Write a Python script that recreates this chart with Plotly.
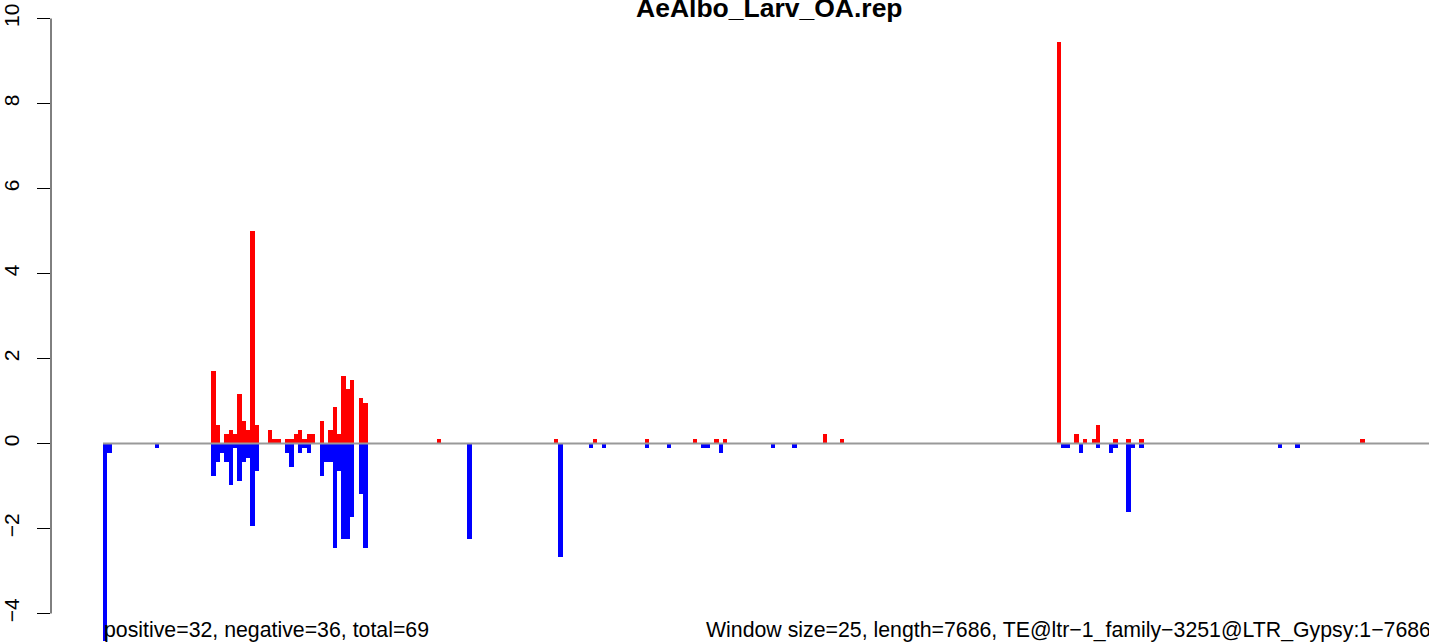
import plotly.graph_objects as go

# ---- data (window index, value); window size = 25 bp ----
window_size = 25
seq_length = 7686
ytick_vals = [-4, -2, 0, 2, 4, 6, 8, 10]

pos_windows = [25, 26, 28, 29, 30, 31, 32, 33, 34, 35, 38, 39, 40, 42, 43, 44, 45, 46, 47, 48,
               50, 52, 53, 54, 55, 56, 57, 59, 60, 77, 104, 113, 125, 136, 141, 143, 166, 170,
               220, 224, 226, 228, 229, 233, 236, 239, 290]
pos_values = [1.70, 0.43, 0.22, 0.32, 0.22, 1.17, 0.54, 0.32, 5.00, 0.43, 0.32, 0.11, 0.11, 0.11,
              0.11, 0.22, 0.32, 0.11, 0.22, 0.22, 0.54, 0.32, 0.86, 0.22, 1.59, 1.28, 1.49, 1.07,
              0.95, 0.11, 0.11, 0.11, 0.11, 0.11, 0.11, 0.11, 0.22, 0.11, 9.45, 0.22, 0.11, 0.11,
              0.43, 0.11, 0.11, 0.11, 0.11]

neg_windows = [0, 1, 12, 25, 26, 27, 28, 29, 30, 31, 32, 33, 34, 35, 42, 43, 45, 46, 47, 50, 51,
               52, 53, 54, 55, 56, 57, 59, 60, 84, 105, 112, 115, 125, 130, 138, 139, 142, 154,
               159, 221, 222, 225, 229, 232, 233, 236, 237, 239, 271, 275]
neg_values = [-4.65, -0.22, -0.11, -0.76, -0.43, -0.22, -0.43, -0.97, -0.11, -0.88, -0.43, -0.34,
              -1.94, -0.64, -0.22, -0.55, -0.22, -0.11, -0.22, -0.76, -0.43, -0.43, -2.45, -0.64,
              -2.24, -2.24, -1.73, -1.18, -2.45, -2.24, -2.67, -0.11, -0.11, -0.11, -0.11, -0.11,
              -0.11, -0.22, -0.11, -0.11, -0.11, -0.11, -0.22, -0.11, -0.22, -0.11, -1.61, -0.11,
              -0.11, -0.11, -0.11]

title_text = "AeAlbo_Larv_OA.rep"
left_note = "positive=32, negative=36, total=69"
right_note = "Window size=25, length=7686, TE@ltr\u22121_family\u22123251@LTR_Gypsy:1\u22127686"

FONT = "Liberation Sans, Arial, Helvetica, sans-serif"

pos_x = [w * window_size + window_size / 2 for w in pos_windows]
neg_x = [w * window_size + window_size / 2 for w in neg_windows]

fig = go.Figure()
fig.add_trace(go.Bar(x=pos_x, y=pos_values, width=window_size,
                     marker=dict(color="#FF0000", line=dict(width=0)), showlegend=False,
                     hoverinfo="skip"))
fig.add_trace(go.Bar(x=neg_x, y=neg_values, width=window_size,
                     marker=dict(color="#0000FF", line=dict(width=0)), showlegend=False,
                     hoverinfo="skip"))

W, H = 1429, 643
left_margin = 51
px_per_bp = 4.336 / window_size
x_start = -(103 - left_margin) / px_per_bp
x_end = x_start + (W - left_margin) / px_per_bp
zero_px = 443.5
px_per_unit = 42.5
y_top = zero_px / px_per_unit
y_bot = -(H - zero_px) / px_per_unit

fig.update_layout(
    width=W, height=H,
    margin=dict(l=left_margin, r=0, t=0, b=0),
    paper_bgcolor="white", plot_bgcolor="white",
    barmode="overlay", bargap=0,
    font=dict(family=FONT, color="black"),
    xaxis=dict(range=[x_start, x_end], visible=False, showgrid=False, zeroline=False),
    yaxis=dict(range=[y_bot, y_top], tickvals=ytick_vals, ticktext=[str(v).replace("-", "\u2212") for v in ytick_vals],
               ticks="outside", ticklen=13, tickwidth=1, tickcolor="black",
               showline=False, showgrid=False, zeroline=False, tickangle=-90,
               tickfont=dict(family=FONT, size=21, color="black"), ticklabelstandoff=10),
    shapes=[
        dict(type="line", xref="paper", yref="y", x0=0, x1=0, y0=-4, y1=10,
             line=dict(color="black", width=1)),
        dict(type="line", xref="x", yref="y", x0=0, x1=seq_length, y0=0, y1=0,
             line=dict(color="#999999", width=2), layer="above"),
    ],
    annotations=[
        dict(text="<b>" + title_text + "</b>", xref="x", yref="paper", x=seq_length / 2, y=1,
             xanchor="center", yanchor="middle", yshift=-8, showarrow=False, borderpad=0,
             font=dict(family=FONT, size=26.5, color="black")),
        dict(text=left_note, xref="x", yref="paper", x=0, y=0, xanchor="left", yanchor="middle",
             yshift=13, showarrow=False, borderpad=0, font=dict(family=FONT, size=21.3, color="black")),
        dict(text=right_note, xref="paper", yref="paper", x=1, y=0, xanchor="right", yanchor="middle",
             xshift=3, yshift=13, showarrow=False, borderpad=0, font=dict(family=FONT, size=21.3, color="black")),
    ],
)

fig.write_html("out.html", config={"displayModeBar": False},
               post_script="document.body.style.margin='0px';")
